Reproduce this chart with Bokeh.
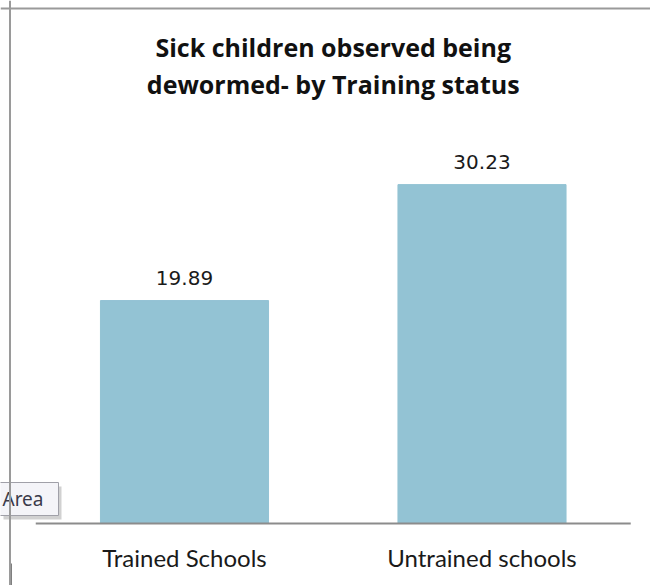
from bokeh.plotting import figure
from bokeh.models import Range1d, Span
from bokeh.core.properties import value
from bokeh.embed import file_html
from bokeh.resources import INLINE

# ---- data ----
categories = ["Trained Schools", "Untrained schools"]
values = [19.89, 30.23]
value_labels = ["19.89", "30.23"]
title_lines = ["Sick children observed being", "dewormed- by Training status"]

# ---- layout (pixels) ----
W, H = 650, 585
BASE_PX = 523          # pixel row of the zero line
PX_PER_UNIT_Y = 11.21  # pixels per data unit
FIRST_CENTER_PX = 184  # pixel column of first category centre
PX_PER_CAT = 297.5     # pixels per category
TXT_DY = -7            # text baseline correction

x_start = 0.5 - FIRST_CENTER_PX / PX_PER_CAT
x_end = x_start + W / PX_PER_CAT
y_end = BASE_PX / PX_PER_UNIT_Y
y_start = -(H - BASE_PX) / PX_PER_UNIT_Y


def px2x(px):
    return x_start + px / PX_PER_CAT


def px2y(py):
    return (BASE_PX - py) / PX_PER_UNIT_Y


p = figure(width=W, height=H, output_backend="svg", toolbar_location=None,
           x_range=Range1d(x_start, x_end), y_range=Range1d(y_start, y_end),
           x_axis_type=None, y_axis_type=None, min_border=0)
p.grid.visible = False
p.outline_line_color = None
p.background_fill_color = "white"
p.border_fill_color = "white"

xs = [i + 0.5 for i in range(len(categories))]

# bars
p.vbar(x=xs, top=values, bottom=0, width=0.565, fill_color="#93C3D4",
       line_color="#93C3D4")

# value labels
p.text(x=xs, y=values, text=value_labels, text_align="center",
       text_baseline="alphabetic", y_offset=-16 + TXT_DY,
       text_font=value("DejaVu Sans"), text_font_size="20px",
       text_color="#1a1a1a")

# category axis line
p.segment(x0=[0], y0=[0], x1=[len(categories)], y1=[0],
          line_color="#8c8c8c", line_width=2)

# category labels
p.text(x=xs, y=[px2y(564 + TXT_DY)] * len(categories), text=categories,
       text_align="center", text_baseline="alphabetic",
       text_font=value("Lato"), text_font_size="24px", text_color="#1a1a1a")

# title
p.text(x=[len(categories) / 2] * 2, y=[px2y(53 + TXT_DY), px2y(90 + TXT_DY)],
       text=title_lines, text_align="center", text_baseline="alphabetic",
       text_font=value("Open Sans"), text_font_style="bold",
       text_font_size="25px", text_color="#111111")

# chart border (top and left)
p.add_layout(Span(location=px2y(8), dimension="width",
                  line_color="#9a9a9a", line_width=2))
p.add_layout(Span(location=px2x(9.5), dimension="height",
                  line_color="#9a9a9a", line_width=2))
p.segment(x0=[px2x(10)], y0=[px2y(563)], x1=[px2x(10)], y1=[px2y(585)],
          line_color="black", line_width=2)

# "Area" tooltip
p.quad(left=[px2x(3)], right=[px2x(61)], top=[px2y(486)], bottom=[px2y(519)],
       fill_color="#7a7a7a", fill_alpha=0.35, line_color=None)
p.quad(left=[px2x(-5)], right=[px2x(58)], top=[px2y(482)], bottom=[px2y(515)],
       fill_color="#f4f4f8", line_color="#a0a0a8", line_width=1)
p.text(x=[px2x(2)], y=[px2y(505 + TXT_DY)], text=["Area"], text_align="left",
       text_baseline="alphabetic", text_font=value("Noto Sans"),
       text_font_size="19px", text_color="#3a3a4a")

open("out.html", "w").write(file_html(p, INLINE))
